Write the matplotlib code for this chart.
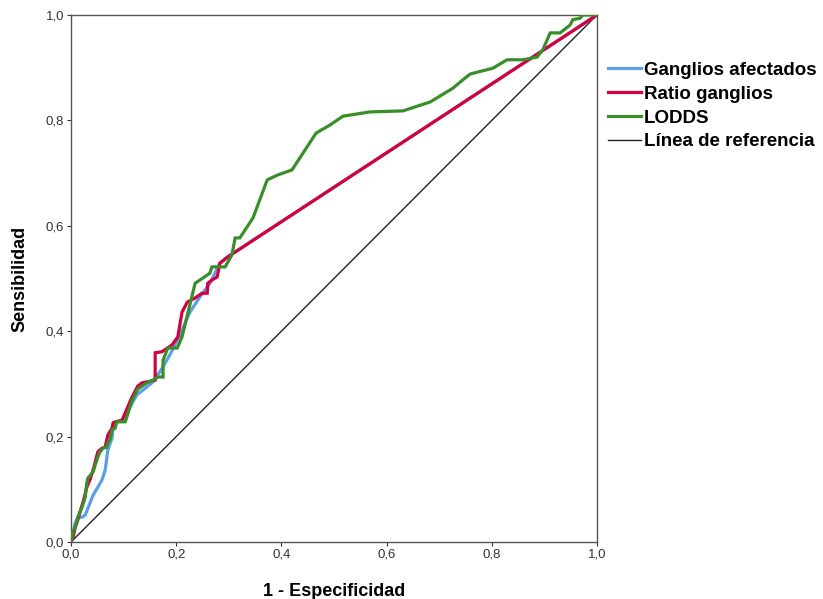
import matplotlib
matplotlib.use("Agg")
import matplotlib.pyplot as plt
from matplotlib.ticker import FuncFormatter

plt.rcParams['font.family'] = ['Liberation Sans', 'DejaVu Sans']

# ROC curves: (1 - especificidad, sensibilidad)
ganglios_x = [0.0, 0.004, 0.008, 0.013, 0.021, 0.027, 0.036, 0.042, 0.051, 0.059,
              0.065, 0.068, 0.070, 0.078, 0.080, 0.087, 0.103, 0.112, 0.125, 0.144,
              0.156, 0.169, 0.188, 0.207, 0.226, 0.245, 0.264, 0.283, 0.298, 1.0]
ganglios_y = [0.0, 0.019, 0.036, 0.047, 0.047, 0.051, 0.074, 0.089, 0.104, 0.118,
              0.137, 0.159, 0.175, 0.197, 0.218, 0.228, 0.231, 0.256, 0.279, 0.294,
              0.304, 0.323, 0.355, 0.393, 0.436, 0.465, 0.491, 0.529, 0.541, 1.0]

ratio_x = [0.0, 0.004, 0.008, 0.013, 0.017, 0.023, 0.030, 0.036, 0.042, 0.046,
           0.051, 0.059, 0.065, 0.068, 0.070, 0.078, 0.080, 0.084, 0.097, 0.103,
           0.112, 0.116, 0.127, 0.135, 0.160, 0.160, 0.173, 0.192, 0.203, 0.211,
           0.221, 0.236, 0.249, 0.259, 0.260, 0.268, 0.278, 0.283, 0.298, 1.0]
ratio_y = [0.0, 0.009, 0.028, 0.042, 0.057, 0.076, 0.104, 0.118, 0.137, 0.152,
           0.171, 0.178, 0.180, 0.194, 0.203, 0.216, 0.226, 0.228, 0.231, 0.245,
           0.266, 0.275, 0.296, 0.302, 0.307, 0.359, 0.361, 0.374, 0.389, 0.436,
           0.455, 0.463, 0.472, 0.472, 0.491, 0.497, 0.503, 0.529, 0.541, 1.0]

lodds_x = [0.0, 0.004, 0.011, 0.013, 0.021, 0.027, 0.030, 0.032, 0.042, 0.046,
           0.051, 0.055, 0.061, 0.068, 0.070, 0.074, 0.078, 0.084, 0.087, 0.103,
           0.106, 0.112, 0.116, 0.127, 0.144, 0.156, 0.165, 0.175, 0.175, 0.184,
           0.202, 0.211, 0.236, 0.245, 0.264, 0.268, 0.293, 0.306, 0.312, 0.321,
           0.346, 0.373, 0.392, 0.420, 0.426, 0.445, 0.466, 0.492, 0.517, 0.568,
           0.631, 0.683, 0.726, 0.745, 0.759, 0.802, 0.829, 0.859, 0.886, 0.897,
           0.911, 0.930, 0.949, 0.954, 0.968, 0.973, 1.0]
lodds_y = [0.0, 0.019, 0.036, 0.047, 0.066, 0.085, 0.112, 0.121, 0.133, 0.146,
           0.161, 0.171, 0.178, 0.180, 0.188, 0.194, 0.213, 0.216, 0.228, 0.228,
           0.237, 0.256, 0.269, 0.290, 0.302, 0.307, 0.313, 0.313, 0.345, 0.368,
           0.368, 0.389, 0.491, 0.497, 0.510, 0.522, 0.522, 0.545, 0.577, 0.577,
           0.615, 0.687, 0.696, 0.706, 0.715, 0.744, 0.776, 0.791, 0.808, 0.816,
           0.818, 0.835, 0.861, 0.877, 0.888, 0.899, 0.915, 0.915, 0.920, 0.934,
           0.966, 0.966, 0.981, 0.991, 0.994, 1.0, 1.0]

ref_x = [0.0, 1.0]
ref_y = [0.0, 1.0]

tick_values = [0.0, 0.2, 0.4, 0.6, 0.8, 1.0]

fig = plt.figure(figsize=(8.23, 5.99), dpi=100)
ax = fig.add_axes([0.0863, 0.0952, 0.6391, 0.8798])

lw = 2.3
ax.plot(ganglios_x, ganglios_y, color='#5C9EEA', lw=lw, label='Ganglios afectados',
        solid_joinstyle='miter', zorder=3)
ax.plot(ratio_x, ratio_y, color='#D5003F', lw=lw, label='Ratio ganglios',
        solid_joinstyle='miter', zorder=4)
ax.plot(lodds_x, lodds_y, color='#3A8E2A', lw=lw, label='LODDS',
        solid_joinstyle='miter', zorder=5)
ax.plot(ref_x, ref_y, color='#222222', lw=1.0, label='Línea de referencia', zorder=2)

ax.set_xlim(0, 1)
ax.set_ylim(0, 1)
ax.set_xticks(tick_values)
ax.set_yticks(tick_values)
fmt = FuncFormatter(lambda v, p: f"{v:.1f}".replace('.', ','))
ax.xaxis.set_major_formatter(fmt)
ax.yaxis.set_major_formatter(fmt)
ax.tick_params(axis='both', labelsize=9.5, colors='#333333', length=3, width=0.8,
               direction='out', pad=2)
for s in ax.spines.values():
    s.set_color('#555555')
    s.set_linewidth(1.0)

ax.set_xlabel('1 - Especificidad', fontsize=13, fontweight='bold', labelpad=16)
ax.set_ylabel('Sensibilidad', fontsize=13, fontweight='bold', labelpad=12)

fig.legend(loc='upper left', bbox_to_anchor=(0.7388, 0.897), frameon=False,
           prop={'weight': 'bold', 'size': 13.5},
           handlelength=1.75, handletextpad=0.15, labelspacing=0.36,
           borderaxespad=0, borderpad=0)

fig.savefig('out.png', dpi=100, facecolor='white')
